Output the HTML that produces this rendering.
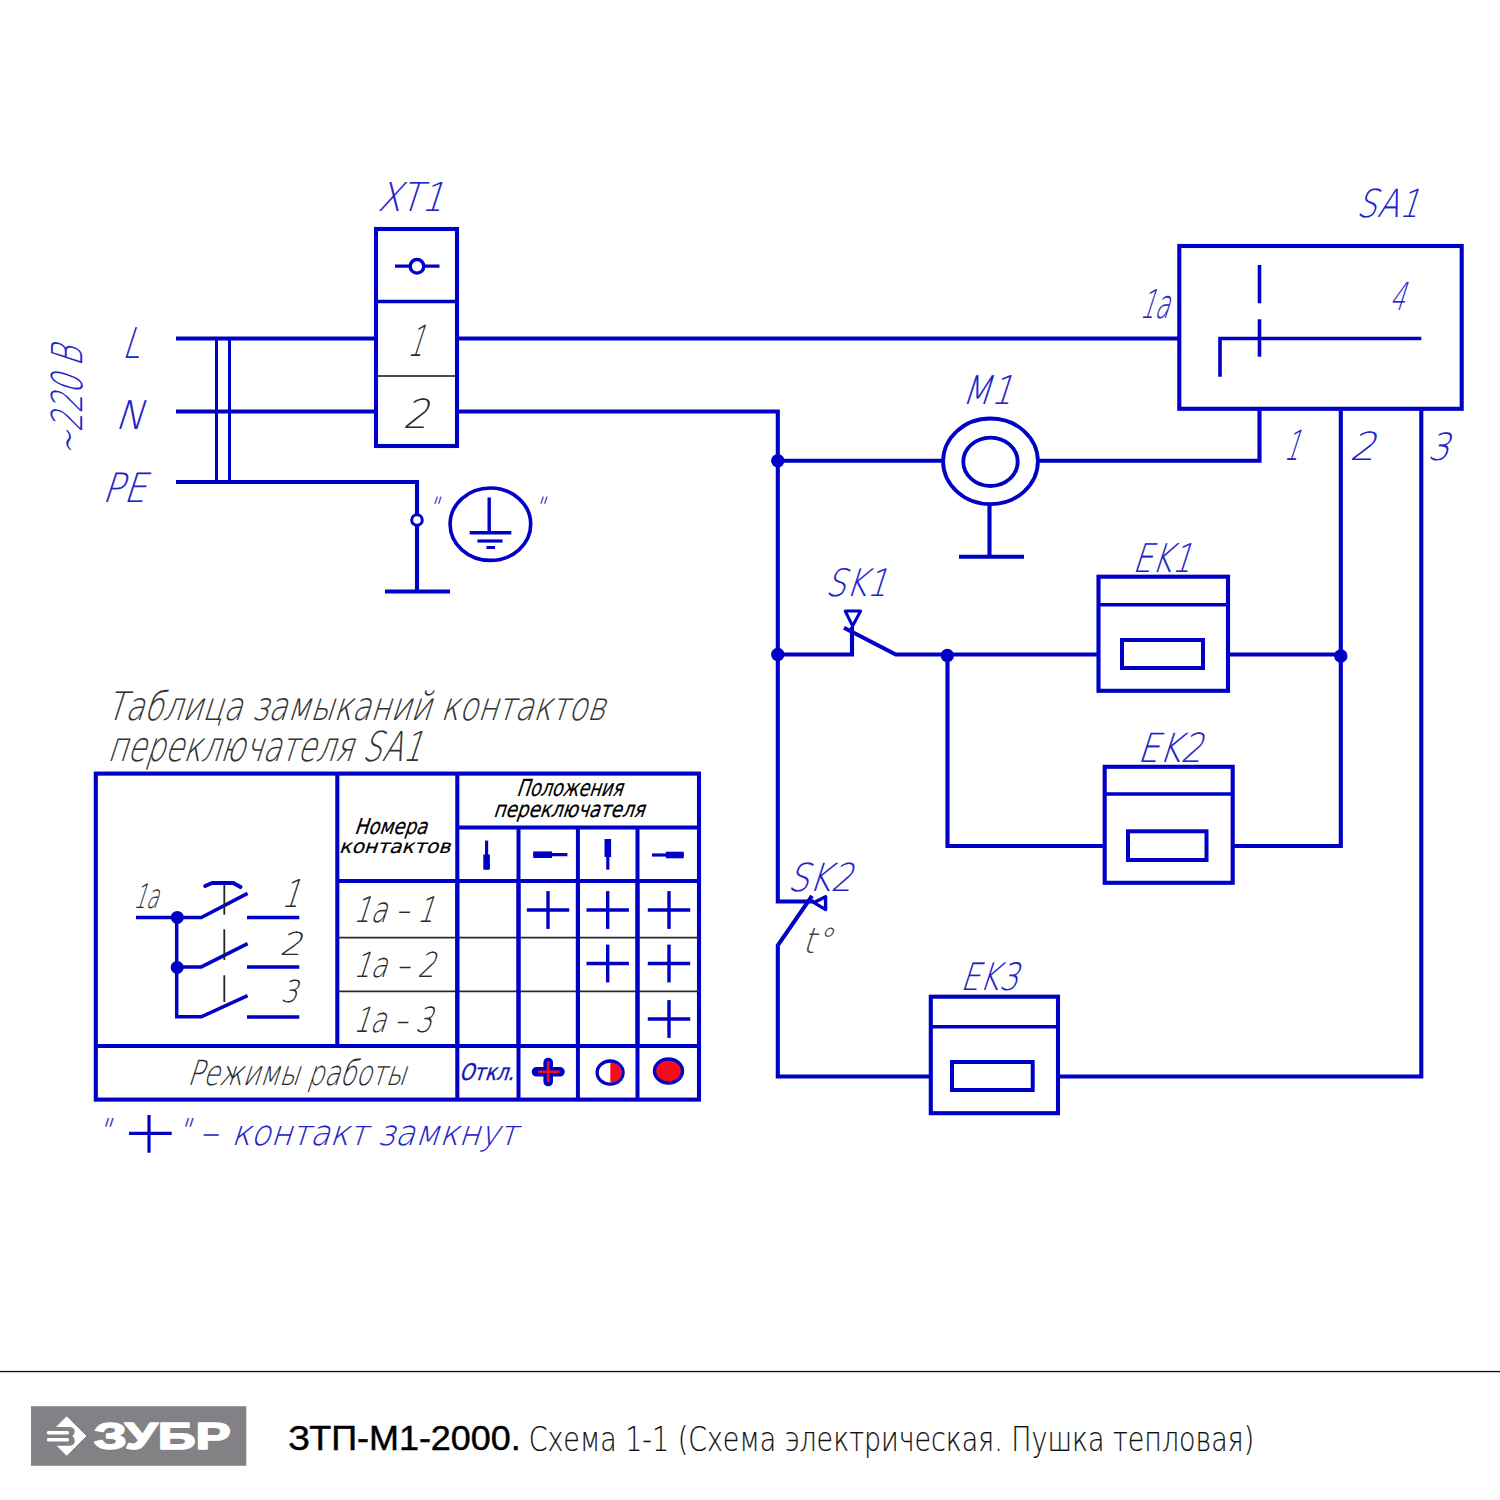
<!DOCTYPE html>
<html lang="ru"><head><meta charset="utf-8"><title>ЗТП-М1-2000. Схема 1-1</title>
<style>
html,body{margin:0;padding:0;background:#fff;}
body{width:1500px;height:1500px;overflow:hidden;}
svg{display:block;}
text{white-space:pre;}
</style></head><body>
<svg width="1500" height="1500" viewBox="0 0 1500 1500">
<rect width="1500" height="1500" fill="#fff"/>
<path d="M176 338.5 L375 338.5" stroke="#0000c6" stroke-width="4.1" fill="none" />
<path d="M176 411.5 L375 411.5" stroke="#0000c6" stroke-width="4.1" fill="none" />
<path d="M176 482 L417 482 L417 591.5" stroke="#0000c6" stroke-width="4.1" fill="none" />
<path d="M385 591.5 L450 591.5" stroke="#0000c6" stroke-width="4.1" fill="none" />
<path d="M216.5 338.5 L216.5 482" stroke="#0000c6" stroke-width="3" fill="none" />
<path d="M229.5 338.5 L229.5 482" stroke="#0000c6" stroke-width="3" fill="none" />
<circle cx="417" cy="520" r="5.3" fill="#fff" stroke="#0000c6" stroke-width="3"/>
<ellipse cx="490.4" cy="524.2" rx="40.3" ry="36.2" fill="none" stroke="#0000c6" stroke-width="3.6"/>
<path d="M489.2 497.5 L489.2 532.8" stroke="#0000c6" stroke-width="3.4" fill="none" />
<path d="M469.7 532.8 L511.3 532.8" stroke="#0000c6" stroke-width="3.4" fill="none" />
<path d="M477.5 541 L502.5 541" stroke="#0000c6" stroke-width="3.2" fill="none" />
<path d="M486.5 547.5 L495 547.5" stroke="#0000c6" stroke-width="3" fill="none" />
<rect x="376" y="229" width="81" height="217" stroke="#0000c6" stroke-width="4.1" fill="none"/>
<path d="M376 301.5 L457 301.5" stroke="#0000c6" stroke-width="3.5" fill="none" />
<path d="M378 376 L455 376" stroke="#111" stroke-width="1.5" fill="none" />
<path d="M395 266.2 L439.5 266.2" stroke="#0000c6" stroke-width="3.2" fill="none" />
<circle cx="417" cy="266.3" r="6.8" fill="#fff" stroke="#0000c6" stroke-width="3.4"/>
<path d="M457 338.5 L1179.3 338.5" stroke="#0000c6" stroke-width="4.1" fill="none" />
<path d="M457 411.5 L777.8 411.5 L777.8 901.5 L814 901.5" stroke="#0000c6" stroke-width="4.1" fill="none" />
<rect x="1179.3" y="246" width="282.4" height="162.8" stroke="#0000c6" stroke-width="4.1" fill="none"/>
<path d="M1220 376.7 L1220 338.5 L1421.3 338.5" stroke="#0000c6" stroke-width="3.6" fill="none" />
<path d="M1259.5 265 L1259.5 303.3" stroke="#0000c6" stroke-width="3.6" fill="none" />
<path d="M1259.5 319.3 L1259.5 356.7" stroke="#0000c6" stroke-width="3.6" fill="none" />
<path d="M1259.5 408.8 L1259.5 460.8 L1038 460.8" stroke="#0000c6" stroke-width="4.1" fill="none" />
<path d="M943 460.8 L777.8 460.8" stroke="#0000c6" stroke-width="4.1" fill="none" />
<ellipse cx="990.5" cy="461.3" rx="47.4" ry="42.8" fill="none" stroke="#0000c6" stroke-width="3.8"/>
<ellipse cx="990.5" cy="461.8" rx="27.2" ry="24.2" fill="none" stroke="#0000c6" stroke-width="3.8"/>
<path d="M989.5 504 L989.5 556.7" stroke="#0000c6" stroke-width="4.1" fill="none" />
<path d="M959 556.7 L1024 556.7" stroke="#0000c6" stroke-width="4.1" fill="none" />
<circle cx="777.8" cy="460.8" r="6.7" fill="#0000c6"/>
<path d="M777.8 654.5 L852 654.5 L852 627" stroke="#0000c6" stroke-width="4.1" fill="none" />
<path d="M844 627.8 L895.8 654.5 L1098.5 654.5" stroke="#0000c6" stroke-width="4.1" fill="none" stroke-linejoin="miter"/>
<path d="M845.2 611 L860.6 611 L852.6 626 Z" fill="#fff" stroke="#0000c6" stroke-width="3" stroke-linejoin="round"/>
<circle cx="777.8" cy="654.5" r="6.7" fill="#0000c6"/>
<circle cx="947.3" cy="655.5" r="6.7" fill="#0000c6"/>
<rect x="1098.5" y="576.7" width="129.5" height="114.1" stroke="#0000c6" stroke-width="4.1" fill="none"/>
<path d="M1098.5 604.8 L1228 604.8" stroke="#0000c6" stroke-width="3.6" fill="none" />
<rect x="1122" y="640" width="81" height="28" stroke="#0000c6" stroke-width="4" fill="none"/>
<path d="M1228 654.5 L1340.8 654.5" stroke="#0000c6" stroke-width="4.1" fill="none" />
<circle cx="1340.8" cy="656" r="6.7" fill="#0000c6"/>
<path d="M1340.8 408.8 L1340.8 846 L1232.7 846" stroke="#0000c6" stroke-width="4.1" fill="none" />
<rect x="1104.7" y="766.8" width="128" height="116" stroke="#0000c6" stroke-width="4.1" fill="none"/>
<path d="M1104.7 794 L1232.7 794" stroke="#0000c6" stroke-width="3.6" fill="none" />
<rect x="1128" y="831.3" width="78.5" height="28.7" stroke="#0000c6" stroke-width="4" fill="none"/>
<path d="M1104.7 846 L947.5 846 L947.5 655.5" stroke="#0000c6" stroke-width="4.1" fill="none" />
<path d="M1421.3 408.8 L1421.3 1076.5 L1058 1076.5" stroke="#0000c6" stroke-width="4.1" fill="none" />
<rect x="930.8" y="996.7" width="127.2" height="116.5" stroke="#0000c6" stroke-width="4.1" fill="none"/>
<path d="M930.8 1026.7 L1058 1026.7" stroke="#0000c6" stroke-width="3.6" fill="none" />
<rect x="952" y="1062" width="80.7" height="28" stroke="#0000c6" stroke-width="4" fill="none"/>
<path d="M930.8 1076.5 L777.8 1076.5 L777.8 945.3 L812 895.8" stroke="#0000c6" stroke-width="4.1" fill="none" />
<path d="M814 902.6 L825.6 896.8 L825.6 909.6 Z" fill="#fff" stroke="#0000c6" stroke-width="3.4" stroke-linejoin="round"/>
<rect x="95.8" y="773.6" width="603.2" height="326" stroke="#0000c6" stroke-width="4.1" fill="none"/>
<path d="M337.3 773.6 L337.3 1046" stroke="#0000c6" stroke-width="4.1" fill="none" />
<path d="M457.3 773.6 L457.3 1099.6" stroke="#0000c6" stroke-width="4.1" fill="none" />
<path d="M518.5 827.5 L518.5 1099.6" stroke="#0000c6" stroke-width="4" fill="none" />
<path d="M577.9 827.5 L577.9 1099.6" stroke="#0000c6" stroke-width="4" fill="none" />
<path d="M637.5 827.5 L637.5 1099.6" stroke="#0000c6" stroke-width="4" fill="none" />
<path d="M457.3 827.5 L699 827.5" stroke="#0000c6" stroke-width="4" fill="none" />
<path d="M337.3 881 L699 881" stroke="#0000c6" stroke-width="4.1" fill="none" />
<path d="M337.3 937.7 L699 937.7" stroke="#2a2a2a" stroke-width="1.8" fill="none" />
<path d="M337.3 991.3 L699 991.3" stroke="#2a2a2a" stroke-width="1.8" fill="none" />
<path d="M95.8 1046 L699 1046" stroke="#0000c6" stroke-width="4.1" fill="none" />
<path d="M457.3 881 L457.3 1046" stroke="#0000c6" stroke-width="4" fill="none" />
<path d="M518.5 881 L518.5 1046" stroke="#0000c6" stroke-width="4" fill="none" />
<path d="M577.9 881 L577.9 1046" stroke="#0000c6" stroke-width="4" fill="none" />
<path d="M637.5 881 L637.5 1046" stroke="#0000c6" stroke-width="4" fill="none" />
<path d="M526.8 910 L569.2 910" stroke="#0000c6" stroke-width="3.4" fill="none" />
<path d="M548 891.1 L548 928.9" stroke="#0000c6" stroke-width="3.4" fill="none" />
<path d="M586.5 910 L628.9 910" stroke="#0000c6" stroke-width="3.4" fill="none" />
<path d="M607.7 891.1 L607.7 928.9" stroke="#0000c6" stroke-width="3.4" fill="none" />
<path d="M647.8 910 L690.2 910" stroke="#0000c6" stroke-width="3.4" fill="none" />
<path d="M669 891.1 L669 928.9" stroke="#0000c6" stroke-width="3.4" fill="none" />
<path d="M586.5 963.5 L628.9 963.5" stroke="#0000c6" stroke-width="3.4" fill="none" />
<path d="M607.7 944.6 L607.7 982.4" stroke="#0000c6" stroke-width="3.4" fill="none" />
<path d="M647.8 963.5 L690.2 963.5" stroke="#0000c6" stroke-width="3.4" fill="none" />
<path d="M669 944.6 L669 982.4" stroke="#0000c6" stroke-width="3.4" fill="none" />
<path d="M647.8 1019 L690.2 1019" stroke="#0000c6" stroke-width="3.4" fill="none" />
<path d="M669 1000.1 L669 1037.9" stroke="#0000c6" stroke-width="3.4" fill="none" />
<path d="M486.6 840.6 L486.6 869.6" stroke="#0000c6" stroke-width="3.2" fill="none" />
<path d="M486.6 854.5 L486.6 869.6" stroke="#0000c6" stroke-width="6.6" fill="none" />
<path d="M533.3 854.7 L567.4 854.7" stroke="#0000c6" stroke-width="3.2" fill="none" />
<path d="M533.3 854.7 L552 854.7" stroke="#0000c6" stroke-width="6.6" fill="none" />
<path d="M607.8 839 L607.8 869.6" stroke="#0000c6" stroke-width="3.2" fill="none" />
<path d="M607.8 839 L607.8 857" stroke="#0000c6" stroke-width="6.6" fill="none" />
<path d="M652 855 L683.7 855" stroke="#0000c6" stroke-width="3.2" fill="none" />
<path d="M665.8 855 L683.7 855" stroke="#0000c6" stroke-width="6.6" fill="none" />
<path d="M548.2 1062.5 L548.2 1081.5 M536.5 1071.8 L560 1071.8" stroke="#0000c6" stroke-width="9.6" stroke-linecap="round" fill="none"/>
<path d="M548.2 1062.5 L548.2 1081 M539 1071.8 L558.5 1071.8" stroke="#f80a18" stroke-width="2.6" stroke-linecap="round" fill="none"/>
<ellipse cx="610.1" cy="1072.6" rx="13" ry="11.6" fill="#fff" stroke="#0000c6" stroke-width="3.3"/>
<path d="M610.3 1062.6 A11.4 10 0 0 1 610.3 1082.6 Z" fill="#f80a18"/>
<ellipse cx="668.5" cy="1071" rx="14" ry="12" fill="#f80a18" stroke="#0000c6" stroke-width="3.4"/>
<path d="M136 917.5 L201.3 917.5 L247.6 893.4" stroke="#0000c6" stroke-width="3.5" fill="none" />
<path d="M176.7 917.5 L176.7 1016.8 L201.3 1016.8 L247.6 995.6" stroke="#0000c6" stroke-width="3.5" fill="none" />
<path d="M176.7 966.9 L201.3 966.9 L247.6 943.6" stroke="#0000c6" stroke-width="3.5" fill="none" />
<circle cx="177.3" cy="917.4" r="6.5" fill="#0000c6"/>
<circle cx="177.2" cy="967.4" r="6.5" fill="#0000c6"/>
<path d="M247 917.5 L299.3 917.5" stroke="#0000c6" stroke-width="3.5" fill="none" />
<path d="M247 967 L299.3 967" stroke="#0000c6" stroke-width="3.5" fill="none" />
<path d="M247 1017 L299.3 1017" stroke="#0000c6" stroke-width="3.5" fill="none" />
<path d="M205.2 886 L212 883 L233.3 883 L240.5 887" stroke="#0000c6" stroke-width="4" fill="none" stroke-linejoin="round" stroke-linecap="round"/>
<path d="M224.3 884.5 L224.3 914.7" stroke="#222" stroke-width="1.8" fill="none" />
<path d="M224.3 929.3 L224.3 960" stroke="#222" stroke-width="1.8" fill="none" />
<path d="M224.3 975.3 L224.3 1002" stroke="#222" stroke-width="1.8" fill="none" />
<path d="M129 1133.3 L171.7 1133.3" stroke="#0000c6" stroke-width="3.2" fill="none" />
<path d="M149 1115 L149 1152.7" stroke="#0000c6" stroke-width="3.2" fill="none" />
<g font-family="'DejaVu Sans Light','DejaVu Sans','Liberation Sans',sans-serif" font-weight="200">
<text id="t_XT1" transform="translate(377.00,211.00) skewX(-18)" font-size="39.78" textLength="65.58" lengthAdjust="spacingAndGlyphs" fill="#2222c8" stroke="#2222c8" stroke-width="0.12">XT1</text>
<text id="t_SA1" transform="translate(1356.00,217.20) skewX(-18)" font-size="38.58" textLength="62.45" lengthAdjust="spacingAndGlyphs" fill="#2222c8" stroke="#2222c8" stroke-width="0.12">SA1</text>
<text id="t_M1" transform="translate(961.20,403.70) skewX(-18)" font-size="39.59" textLength="50.28" lengthAdjust="spacingAndGlyphs" fill="#2222c8" stroke="#2222c8" stroke-width="0.12">M1</text>
<text id="t_SK1" transform="translate(825.00,595.50) skewX(-18)" font-size="37.62" textLength="61.55" lengthAdjust="spacingAndGlyphs" fill="#2222c8" stroke="#2222c8" stroke-width="0.12">SK1</text>
<text id="t_EK1" transform="translate(1132.00,572.00) skewX(-18)" font-size="39.59" textLength="58.48" lengthAdjust="spacingAndGlyphs" fill="#2222c8" stroke="#2222c8" stroke-width="0.12">EK1</text>
<text id="t_EK2" transform="translate(1137.00,762.30) skewX(-18)" font-size="40.17" textLength="64.35" lengthAdjust="spacingAndGlyphs" fill="#2222c8" stroke="#2222c8" stroke-width="0.12">EK2</text>
<text id="t_SK2" transform="translate(787.20,891.20) skewX(-18)" font-size="38.58" textLength="64.25" lengthAdjust="spacingAndGlyphs" fill="#2222c8" stroke="#2222c8" stroke-width="0.12">SK2</text>
<text id="t_EK3" transform="translate(960.00,989.50) skewX(-18)" font-size="37.62" textLength="57.35" lengthAdjust="spacingAndGlyphs" fill="#2222c8" stroke="#2222c8" stroke-width="0.12">EK3</text>
<text id="t_L" transform="translate(121.40,357.60) skewX(-18)" font-size="42.10" textLength="17.86" lengthAdjust="spacingAndGlyphs" fill="#2222c8" stroke="#2222c8" stroke-width="0.12">L</text>
<text id="t_N" transform="translate(114.40,428.70) skewX(-18)" font-size="39.59" textLength="28.48" lengthAdjust="spacingAndGlyphs" fill="#2222c8" stroke="#2222c8" stroke-width="0.12">N</text>
<text id="t_PE" transform="translate(101.80,501.80) skewX(-18)" font-size="40.41" textLength="43.25" lengthAdjust="spacingAndGlyphs" fill="#2222c8" stroke="#2222c8" stroke-width="0.12">PE</text>
<text id="t_V220" transform="translate(83.5,451.4) rotate(-90) translate(-5.40,-1.20) skewX(-18)" font-size="42.52" textLength="109.43" lengthAdjust="spacingAndGlyphs" fill="#2222c8" stroke="#2222c8" stroke-width="0.12">~220 В</text>
<text id="t_sa1a" transform="translate(1139.20,318.10) skewX(-18)" font-size="39.61" textLength="29.12" lengthAdjust="spacingAndGlyphs" fill="#2222c8" stroke="#2222c8" stroke-width="0.12">1a</text>
<text id="t_sa4" transform="translate(1389.00,310.00) skewX(-18)" font-size="38.41" textLength="14.90" lengthAdjust="spacingAndGlyphs" fill="#2222c8" stroke="#2222c8" stroke-width="0.12">4</text>
<text id="t_o1" transform="translate(1283.20,460.30) skewX(-18)" font-size="41.51" textLength="15.15" lengthAdjust="spacingAndGlyphs" fill="#2222c8" stroke="#2222c8" stroke-width="0.12">1</text>
<text id="t_o2" transform="translate(1349.00,460.30) skewX(-18)" font-size="38.81" textLength="25.67" lengthAdjust="spacingAndGlyphs" fill="#2222c8" stroke="#2222c8" stroke-width="0.12">2</text>
<text id="t_o3" transform="translate(1427.20,459.50) skewX(-18)" font-size="37.55" textLength="21.47" lengthAdjust="spacingAndGlyphs" fill="#2222c8" stroke="#2222c8" stroke-width="0.12">3</text>
<text id="t_q1" transform="translate(428.50,514.50) skewX(-18) scale(0.8,1)" font-size="25" fill="#2222c8" stroke="#2222c8" stroke-width="0.3">"</text>
<text id="t_q2" transform="translate(534.50,514.50) skewX(-18) scale(0.8,1)" font-size="25" fill="#2222c8" stroke="#2222c8" stroke-width="0.3">"</text>
<text id="t_x1" transform="translate(407.00,356.30) skewX(-18)" font-size="42.87" textLength="15.70" lengthAdjust="spacingAndGlyphs" fill="#2a2a2a" stroke="#2a2a2a" stroke-width="0.05">1</text>
<text id="t_x2" transform="translate(402.20,428.30) skewX(-18)" font-size="40.13" textLength="25.15" lengthAdjust="spacingAndGlyphs" fill="#2a2a2a" stroke="#2a2a2a" stroke-width="0.05">2</text>
<text id="t_tdeg" transform="translate(801.70,953.46) skewX(-18)" font-size="35.46" textLength="29.08" lengthAdjust="spacingAndGlyphs" fill="#444" stroke="#444" stroke-width="0">t°</text>
<text id="t_title1" transform="translate(106.00,719.50) skewX(-18)" font-size="39.23" textLength="498.41" lengthAdjust="spacingAndGlyphs" fill="#333" stroke="#333" stroke-width="0.12">Таблица замыканий контактов</text>
<text id="t_title2" transform="translate(107.00,761.00) skewX(-18)" font-size="41.24" textLength="314.09" lengthAdjust="spacingAndGlyphs" fill="#333" stroke="#333" stroke-width="0.12">переключателя SA1</text>
<text id="t_nom1" transform="translate(354.00,834.00) skewX(-18)" font-size="21.95" textLength="72.80" lengthAdjust="spacingAndGlyphs" fill="#000" stroke="#000" stroke-width="0.2" font-family="'DejaVu Sans','Liberation Sans',sans-serif" font-weight="400">Номера</text>
<text id="t_nom2" transform="translate(338.80,853.20) skewX(-18)" font-size="19.20" textLength="111.30" lengthAdjust="spacingAndGlyphs" fill="#000" stroke="#000" stroke-width="0.2" font-family="'DejaVu Sans','Liberation Sans',sans-serif" font-weight="400">контактов</text>
<text id="t_pol1" transform="translate(516.00,796.20) skewX(-18)" font-size="23.39" textLength="106.15" lengthAdjust="spacingAndGlyphs" fill="#000" stroke="#000" stroke-width="0.2" font-family="'DejaVu Sans','Liberation Sans',sans-serif" font-weight="400">Положения</text>
<text id="t_pol2" transform="translate(493.00,817.00) skewX(-18)" font-size="22.22" textLength="151.14" lengthAdjust="spacingAndGlyphs" fill="#000" stroke="#000" stroke-width="0.2" font-family="'DejaVu Sans','Liberation Sans',sans-serif" font-weight="400">переключателя</text>
<text id="t_r1" transform="translate(353.00,922.10) skewX(-18)" font-size="35.28" textLength="80.56" lengthAdjust="spacingAndGlyphs" fill="#2a2a2a" stroke="#2a2a2a" stroke-width="0.05">1a – 1</text>
<text id="t_r2" transform="translate(353.00,977.20) skewX(-18)" font-size="34.48" textLength="81.23" lengthAdjust="spacingAndGlyphs" fill="#2a2a2a" stroke="#2a2a2a" stroke-width="0.05">1a – 2</text>
<text id="t_r3" transform="translate(353.00,1031.50) skewX(-18)" font-size="34.73" textLength="78.32" lengthAdjust="spacingAndGlyphs" fill="#2a2a2a" stroke="#2a2a2a" stroke-width="0.05">1a – 3</text>
<text id="t_d1a" transform="translate(133.00,907.50) skewX(-18)" font-size="33.47" textLength="24.65" lengthAdjust="spacingAndGlyphs" fill="#2a2a2a" stroke="#2a2a2a" stroke-width="0.05">1a</text>
<text id="t_d1" transform="translate(281.00,907.00) skewX(-18)" font-size="38.41" textLength="17.90" lengthAdjust="spacingAndGlyphs" fill="#2a2a2a" stroke="#2a2a2a" stroke-width="0.05">1</text>
<text id="t_d2" transform="translate(279.00,955.00) skewX(-18)" font-size="31.60" textLength="22.40" lengthAdjust="spacingAndGlyphs" fill="#2a2a2a" stroke="#2a2a2a" stroke-width="0.05">2</text>
<text id="t_d3" transform="translate(280.20,1002.20) skewX(-18)" font-size="30.39" textLength="17.00" lengthAdjust="spacingAndGlyphs" fill="#2a2a2a" stroke="#2a2a2a" stroke-width="0.05">3</text>
<text id="t_rezh" transform="translate(187.00,1085.00) skewX(-18)" font-size="34.48" textLength="218.23" lengthAdjust="spacingAndGlyphs" fill="#2a2a2a" stroke="#2a2a2a" stroke-width="0.05">Режимы работы</text>
<text id="t_otkl" transform="translate(458.90,1079.80) skewX(-18)" font-size="23.08" textLength="54.56" lengthAdjust="spacingAndGlyphs" fill="#1414b4" stroke="#1414b4" stroke-width="0.35" font-family="'DejaVu Sans','Liberation Sans',sans-serif" font-weight="400">Откл.</text>
<text id="t_fq1" transform="translate(98.00,1140.10) skewX(-18) scale(0.8,1)" font-size="30" fill="#2222c8" stroke="#2222c8" stroke-width="0.3">"</text>
<text id="t_fq2" transform="translate(178.00,1140.10) skewX(-18) scale(0.8,1)" font-size="30" fill="#2222c8" stroke="#2222c8" stroke-width="0.3">"</text>
<text id="t_fdash" transform="translate(198.50,1145.20) skewX(-18)" font-size="36.56" textLength="18.70" lengthAdjust="spacingAndGlyphs" fill="#2222c8" stroke="#2222c8" stroke-width="0.12">–</text>
<text id="t_fnote" transform="translate(231.00,1145.00) skewX(-18)" font-size="34.82" textLength="285.70" lengthAdjust="spacingAndGlyphs" fill="#2222c8" stroke="#2222c8" stroke-width="0.12">контакт замкнут</text>
</g>
<rect x="0" y="1370.9" width="1500" height="1.3" fill="#111"/>
<rect x="31" y="1406.2" width="215.3" height="59.6" fill="#828185"/>
<path d="M66.7 1416.8 L85.9 1436 L66.7 1455.3 L47.5 1436 Z" fill="#fff" stroke="#fff" stroke-width="1" stroke-linejoin="round"/>
<path d="M45.5 1427 L68.5 1427 Q74.8 1427 74.8 1431.6 Q74.8 1435 72.3 1436.3 Q74.8 1437.6 74.8 1441 Q74.8 1445.7 68.5 1445.7 L45.5 1445.7 Z" fill="#828185"/>
<rect x="46.7" y="1431" width="22.4" height="3.4" rx="1.7" fill="#fff"/>
<rect x="46.7" y="1438" width="22.4" height="3.4" rx="1.7" fill="#fff"/>
<text id="zubr" x="93.8" y="1448.7" font-family="'Liberation Sans','DejaVu Sans',sans-serif" font-weight="700" font-size="37" textLength="137" lengthAdjust="spacingAndGlyphs" fill="#fff" stroke="#fff" stroke-width="1.6" stroke-linejoin="round">ЗУБР</text>
<text id="ft1" x="288.3" y="1450.3" font-family="'Liberation Sans','DejaVu Sans',sans-serif" font-size="34.4" fill="#000" stroke="#000" stroke-width="0.45" textLength="232.5" lengthAdjust="spacingAndGlyphs">ЗТП-М1-2000.</text>
<text id="ft2" x="528.7" y="1450.5" font-family="'DejaVu Sans Light','DejaVu Sans','Liberation Sans',sans-serif" font-weight="200" font-size="33.6" fill="#111" stroke="#111" stroke-width="0.2" textLength="725.5" lengthAdjust="spacingAndGlyphs">Схема 1-1 (Схема электрическая. Пушка тепловая)</text>
</svg>
</body></html>
